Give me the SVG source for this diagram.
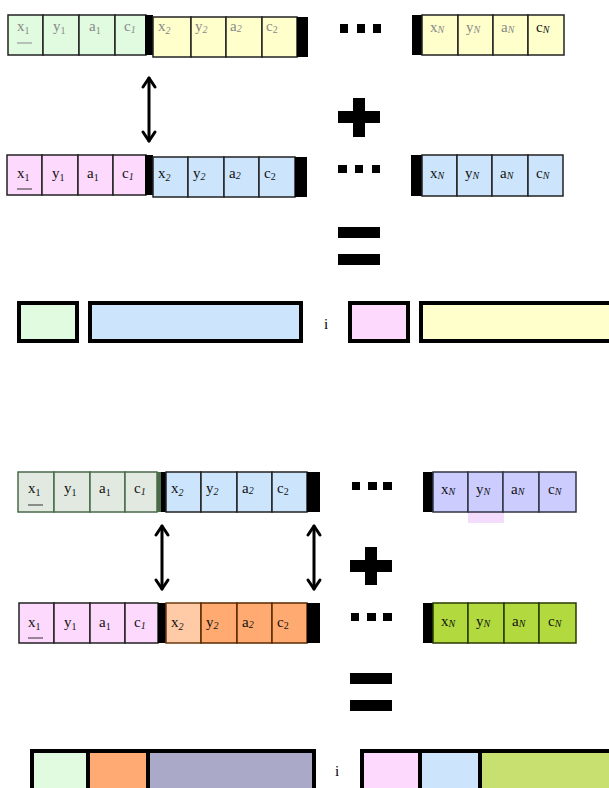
<svg xmlns="http://www.w3.org/2000/svg" width="609" height="788" viewBox="0 0 609 788">
<style>
.c{stroke:#222;stroke-width:1.5}
.g1{fill:#e1fbe1}.ye{fill:#ffffcc}.pk{fill:#fdd9fd}.bl{fill:#cce5fc}
.gr{fill:#e1e9e1;stroke:#4a6a4a}.lv{fill:#ccccff;stroke:#333344}
.lo{fill:#ffcaa6;stroke:#6a3a10}.or{fill:#ffaa70;stroke:#5a2a00}.lm{fill:#b2da3e;stroke:#2a3a00}
.bar{fill:#000}
text{font-family:"Liberation Serif","Times New Roman",serif;font-size:15px;fill:#111}
.gt text{fill:#888}
.s{font-size:10px}
.i{font-style:italic}
.res{stroke:#000;stroke-width:4}
.arr{stroke:#000;stroke-width:3;fill:none;stroke-linecap:round;stroke-linejoin:round}
</style>
<defs>
<g id="dbl" class="arr">
<line x1="0" y1="1" x2="0" y2="64"/>
<polyline points="-6,10 0,1 6,10"/>
<polyline points="-6,55 0,64 6,55"/>
</g>
</defs>

<g id="r1-left" class="gt">
<rect class="c g1" x="8" y="15" width="35" height="40"/>
<rect class="c g1" x="43" y="15" width="36" height="40"/>
<rect class="c g1" x="79" y="15" width="36" height="40"/>
<rect class="c g1" x="115" y="15" width="31" height="40"/>
<rect class="bar" x="145" y="15" width="8" height="40"/>
<rect class="c ye" x="153" y="17" width="38" height="40"/>
<rect class="c ye" x="191" y="17" width="35" height="40"/>
<rect class="c ye" x="226" y="17" width="36" height="40"/>
<rect class="c ye" x="262" y="17" width="35" height="40"/>
<rect class="bar" x="297" y="17" width="11" height="40"/>
<text x="17" y="31">x<tspan class="s" dy="3">1</tspan></text>
<line x1="17" y1="43" x2="32" y2="43" stroke="#888" stroke-width="1"/>
<text x="53" y="31">y<tspan class="s" dy="3">1</tspan></text>
<text x="89" y="31">a<tspan class="s" dy="3">1</tspan></text>
<text x="124" y="31">c<tspan class="s i" dy="2">1</tspan></text>
<text x="158" y="31">x<tspan class="s i" dy="3">2</tspan></text>
<text x="195" y="31">y<tspan class="s i" dy="2">2</tspan></text>
<text x="230" y="31">a<tspan class="s i" dy="1">2</tspan></text>
<text x="266" y="31">c<tspan class="s" dy="2">2</tspan></text>
</g>

<g id="r1-right" class="gt">
<rect class="bar" x="412" y="15" width="10" height="40"/>
<rect class="c ye" x="422" y="15" width="36" height="40"/>
<rect class="c ye" x="458" y="15" width="35" height="40"/>
<rect class="c ye" x="493" y="15" width="35" height="40"/>
<rect class="c ye" x="528" y="15" width="36" height="40"/>
<text x="430" y="32">x<tspan class="s i" dy="1">N</tspan></text>
<text x="466" y="32">y<tspan class="s i" dy="1">N</tspan></text>
<text x="501" y="32">a<tspan class="s i" dy="1">N</tspan></text>
<text x="536" y="32" style="fill:#111">c<tspan class="s i" dy="1">N</tspan></text>
</g>

<g id="r2-left">
<rect class="c pk" x="7" y="155" width="35" height="40"/>
<rect class="c pk" x="42" y="155" width="36" height="40"/>
<rect class="c pk" x="78" y="155" width="35" height="40"/>
<rect class="c pk" x="113" y="155" width="33" height="40"/>
<rect class="bar" x="145" y="155" width="8" height="40"/>
<rect class="c bl" x="153" y="157" width="35" height="40"/>
<rect class="c bl" x="188" y="157" width="36" height="40"/>
<rect class="c bl" x="224" y="157" width="35" height="40"/>
<rect class="c bl" x="259" y="157" width="36" height="40"/>
<rect class="bar" x="295" y="157" width="12" height="40"/>
<text x="17" y="178">x<tspan class="s" dy="3">1</tspan></text>
<line x1="17" y1="189" x2="32" y2="189" stroke="#333" stroke-width="1"/>
<text x="52" y="178">y<tspan class="s" dy="3">1</tspan></text>
<text x="87" y="178">a<tspan class="s" dy="3">1</tspan></text>
<text x="122" y="178">c<tspan class="s i" dy="2">1</tspan></text>
<text x="158" y="178">x<tspan class="s i" dy="3">2</tspan></text>
<text x="193" y="178">y<tspan class="s i" dy="2">2</tspan></text>
<text x="229" y="178">a<tspan class="s i" dy="1">2</tspan></text>
<text x="264" y="178">c<tspan class="s" dy="2">2</tspan></text>
</g>

<g id="r2-right">
<rect class="bar" x="411" y="155" width="11" height="41"/>
<rect class="c bl" x="422" y="155" width="35" height="41"/>
<rect class="c bl" x="457" y="155" width="35" height="41"/>
<rect class="c bl" x="492" y="155" width="36" height="41"/>
<rect class="c bl" x="528" y="155" width="35" height="41"/>
<text x="430" y="178">x<tspan class="s i" dy="1">N</tspan></text>
<text x="465" y="178">y<tspan class="s i" dy="1">N</tspan></text>
<text x="500" y="178">a<tspan class="s i" dy="1">N</tspan></text>
<text x="536" y="178">c<tspan class="s i" dy="1">N</tspan></text>
</g>

<g id="dots1"><rect x="340" y="24" width="8" height="9"/><rect x="357" y="24" width="8" height="9"/><rect x="373" y="24" width="8" height="9"/></g>
<g id="dots2"><rect x="338" y="165" width="9" height="8"/><rect x="355" y="165" width="8" height="8"/><rect x="372" y="165" width="8" height="8"/></g>
<g id="plus1"><rect x="338" y="111" width="42" height="12"/><rect x="353" y="98" width="12" height="39"/></g>
<g id="eq1"><rect x="338" y="227" width="42" height="11"/><rect x="338" y="254" width="42" height="11"/></g>

<g id="res1">
<rect class="res g1" x="19" y="303" width="58" height="38"/>
<rect class="res bl" x="90" y="303" width="211" height="38"/>
<text x="324" y="329" style="fill:#000">i</text>
<rect class="res pk" x="350" y="303" width="58" height="38"/>
<rect class="res ye" x="421" y="303" width="195" height="38"/>
</g>

<g id="r4-left">
<rect class="c gr" x="18" y="472" width="36" height="40"/>
<rect class="c gr" x="54" y="472" width="36" height="40"/>
<rect class="c gr" x="90" y="472" width="35" height="40"/>
<rect class="c gr" x="125" y="472" width="32" height="40"/>
<rect x="157" y="472" width="4" height="40" fill="#4a6a4a"/>
<rect class="bar" x="161" y="472" width="5" height="40"/>
<rect class="c bl" x="166" y="472" width="35" height="40"/>
<rect class="c bl" x="201" y="472" width="36" height="40"/>
<rect class="c bl" x="237" y="472" width="35" height="40"/>
<rect class="c bl" x="272" y="472" width="35" height="40"/>
<rect class="bar" x="307" y="472" width="13" height="40"/>
<text x="28" y="493">x<tspan class="s" dy="3">1</tspan></text>
<line x1="28" y1="505" x2="43" y2="505" stroke="#333" stroke-width="1"/>
<text x="64" y="493">y<tspan class="s" dy="3">1</tspan></text>
<text x="99" y="493">a<tspan class="s" dy="3">1</tspan></text>
<text x="134" y="493">c<tspan class="s i" dy="2">1</tspan></text>
<text x="171" y="493">x<tspan class="s i" dy="3">2</tspan></text>
<text x="206" y="493">y<tspan class="s i" dy="2">2</tspan></text>
<text x="242" y="493">a<tspan class="s i" dy="1">2</tspan></text>
<text x="277" y="493">c<tspan class="s" dy="2">2</tspan></text>
</g>

<g id="r4-right">
<rect x="468" y="512" width="36" height="11" fill="#f4dcfc"/>
<rect class="bar" x="423" y="472" width="10" height="40"/>
<rect class="c lv" x="433" y="472" width="35" height="40"/>
<rect class="c lv" x="468" y="472" width="35" height="40"/>
<rect class="c lv" x="503" y="472" width="36" height="40"/>
<rect class="c lv" x="539" y="472" width="37" height="40"/>
<text x="441" y="494">x<tspan class="s i" dy="1">N</tspan></text>
<text x="476" y="494">y<tspan class="s i" dy="1">N</tspan></text>
<text x="511" y="494">a<tspan class="s i" dy="1">N</tspan></text>
<text x="548" y="494">c<tspan class="s i" dy="1">N</tspan></text>
</g>

<g id="r5-left">
<rect class="c pk" x="19" y="603" width="35" height="40"/>
<rect class="c pk" x="54" y="603" width="36" height="40"/>
<rect class="c pk" x="90" y="603" width="35" height="40"/>
<rect class="c pk" x="125" y="603" width="33" height="40"/>
<rect class="bar" x="158" y="603" width="8" height="40"/>
<rect class="c lo" x="166" y="603" width="35" height="40"/>
<rect class="c or" x="201" y="603" width="36" height="40"/>
<rect class="c or" x="237" y="603" width="35" height="40"/>
<rect class="c or" x="272" y="603" width="35" height="40"/>
<rect class="bar" x="307" y="603" width="13" height="40"/>
<text x="28" y="627">x<tspan class="s" dy="3">1</tspan></text>
<line x1="28" y1="638" x2="43" y2="638" stroke="#333" stroke-width="1"/>
<text x="64" y="627">y<tspan class="s" dy="3">1</tspan></text>
<text x="99" y="627">a<tspan class="s" dy="3">1</tspan></text>
<text x="134" y="627">c<tspan class="s i" dy="2">1</tspan></text>
<text x="171" y="627">x<tspan class="s i" dy="3">2</tspan></text>
<text x="206" y="627">y<tspan class="s i" dy="2">2</tspan></text>
<text x="242" y="627">a<tspan class="s i" dy="1">2</tspan></text>
<text x="277" y="627">c<tspan class="s" dy="2">2</tspan></text>
</g>

<g id="r5-right">
<rect class="bar" x="423" y="603" width="10" height="40"/>
<rect class="c lm" x="433" y="603" width="35" height="40"/>
<rect class="c lm" x="468" y="603" width="36" height="40"/>
<rect class="c lm" x="504" y="603" width="35" height="40"/>
<rect class="c lm" x="539" y="603" width="37" height="40"/>
<text x="441" y="626">x<tspan class="s i" dy="1">N</tspan></text>
<text x="476" y="626">y<tspan class="s i" dy="1">N</tspan></text>
<text x="512" y="626">a<tspan class="s i" dy="1">N</tspan></text>
<text x="548" y="626">c<tspan class="s i" dy="1">N</tspan></text>
</g>

<g id="dots3"><rect x="352" y="482" width="8" height="8"/><rect x="368" y="482" width="9" height="8"/><rect x="383" y="482" width="9" height="8"/></g>
<g id="dots4"><rect x="351" y="613" width="8" height="8"/><rect x="367" y="613" width="9" height="8"/><rect x="383" y="613" width="9" height="8"/></g>
<g id="plus2"><rect x="350" y="560" width="42" height="12"/><rect x="365" y="547" width="12" height="38"/></g>
<g id="eq2"><rect x="350" y="673" width="42" height="11"/><rect x="350" y="700" width="42" height="11"/></g>

<g id="res2">
<rect class="res g1" x="32" y="751" width="56" height="40"/>
<rect class="res" x="88" y="751" width="60" height="40" fill="#ffaa72"/>
<rect class="res" x="148" y="751" width="166" height="40" fill="#aaaac8"/>
<text x="335" y="776" style="fill:#000">i</text>
<rect class="res pk" x="362" y="751" width="58" height="40"/>
<rect class="res bl" x="420" y="751" width="60" height="40"/>
<rect class="res" x="480" y="751" width="136" height="40" fill="#c8e070"/>
</g>

<g id="connectors">
<use href="#dbl" x="149" y="77"/>
<use href="#dbl" x="162" y="525"/>
<use href="#dbl" x="314" y="525"/>
</g>
</svg>
